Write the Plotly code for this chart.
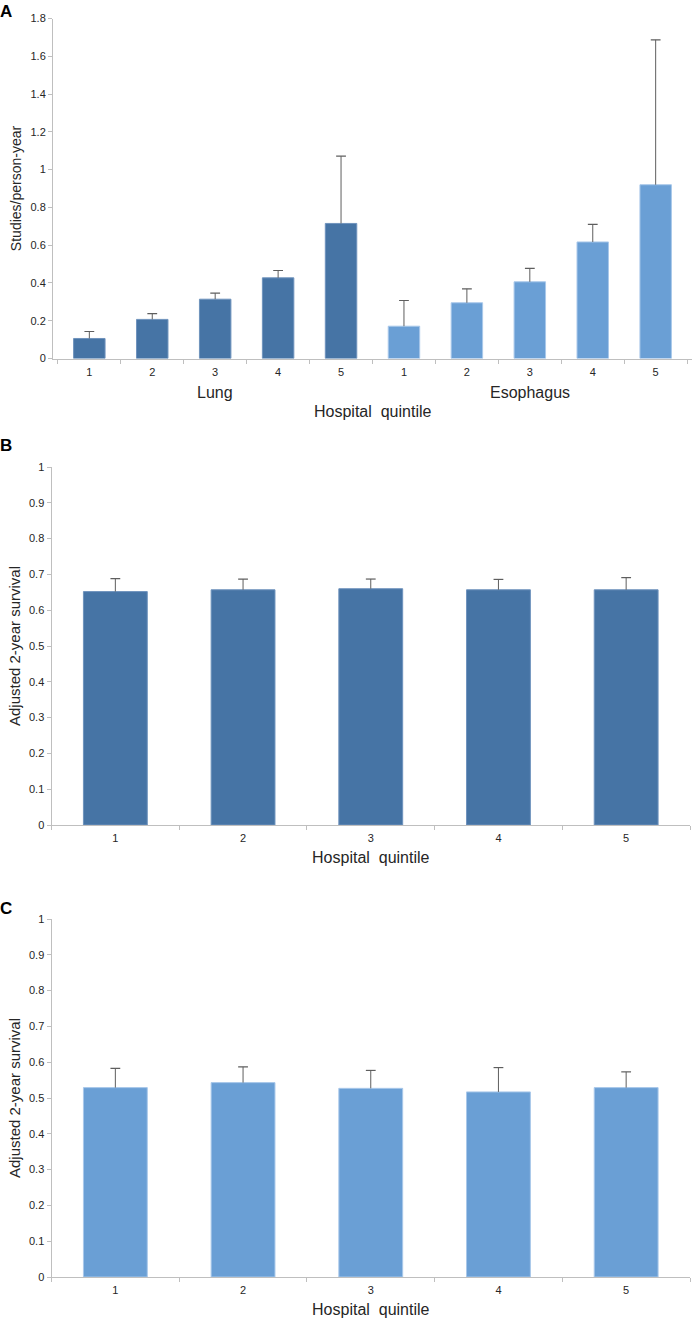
import plotly.graph_objects as go

# ---------------- data ----------------
quintiles = ["1", "2", "3", "4", "5"]
groups_a = ["Lung", "Esophagus"]

lung_rate = [0.106, 0.207, 0.314, 0.427, 0.715]
lung_rate_upper = [0.143, 0.238, 0.346, 0.466, 1.071]
eso_rate = [0.171, 0.295, 0.406, 0.617, 0.920]
eso_rate_upper = [0.307, 0.369, 0.477, 0.710, 1.687]

lung_surv = [0.652, 0.657, 0.660, 0.657, 0.657]
lung_surv_upper = [0.688, 0.687, 0.687, 0.686, 0.691]

eso_surv = [0.529, 0.543, 0.527, 0.517, 0.529]
eso_surv_upper = [0.583, 0.587, 0.577, 0.585, 0.573]

yticks_a = [0, 0.2, 0.4, 0.6, 0.8, 1, 1.2, 1.4, 1.6, 1.8]
ytick_text_a = ["0", "0.2", "0.4", "0.6", "0.8", "1", "1.2", "1.4", "1.6", "1.8"]
yticks_bc = [0, 0.1, 0.2, 0.3, 0.4, 0.5, 0.6, 0.7, 0.8, 0.9, 1]
ytick_text_bc = ["0", "0.1", "0.2", "0.3", "0.4", "0.5", "0.6", "0.7", "0.8", "0.9", "1"]

# ---------------- styles ----------------
DARK = "#4674a5"
LIGHT = "#6a9fd5"
DARK_EDGE = "#6f93bd"
LIGHT_EDGE = "#a9c8ea"
ERR = "#5e5e5e"
AXIS = "#bfbfbf"
TXT = "#262626"
FONT = "Liberation Sans, Arial, sans-serif"
NARROW = "Liberation Sans Narrow, Arial Narrow, Liberation Sans, Arial, sans-serif"

H = 1322.0
W = 694.0

fig = go.Figure()


def add_bars(xcats, vals, uppers, colors, edges, xa, ya):
    plus = [u - v for u, v in zip(uppers, vals)]
    fig.add_trace(go.Bar(
        x=xcats, y=vals, xaxis=xa, yaxis=ya,
        marker=dict(color=colors, line=dict(color=edges, width=1)),
        error_y=dict(type="data", symmetric=False, array=plus,
                     arrayminus=[0] * len(vals), color=ERR,
                     thickness=1, width=0),
        showlegend=False, hoverinfo="skip",
    ))
    fig.add_trace(go.Scatter(
        x=xcats, y=uppers, xaxis=xa, yaxis=ya, mode="markers",
        marker=dict(symbol="line-ew", size=7,
                    line=dict(color=ERR, width=1.2)),
        showlegend=False, hoverinfo="skip",
    ))


# Panel A
cats_a = [g + " " + q for g in groups_a for q in quintiles]
vals_a = lung_rate + eso_rate
upper_a = lung_rate_upper + eso_rate_upper
colors_a = [DARK] * len(lung_rate) + [LIGHT] * len(eso_rate)
edges_a = [DARK_EDGE] * len(lung_rate) + [LIGHT_EDGE] * len(eso_rate)
add_bars(cats_a, vals_a, upper_a, colors_a, edges_a, "x", "y")

# Panel B
cats_b = ["B " + q for q in quintiles]
add_bars(cats_b, lung_surv, lung_surv_upper, [DARK] * 5, [DARK_EDGE] * 5, "x2", "y2")

# Panel C
cats_c = ["C " + q for q in quintiles]
add_bars(cats_c, eso_surv, eso_surv_upper, [LIGHT] * 5, [LIGHT_EDGE] * 5, "x3", "y3")


def ydom(top_px, bot_px):
    return [1 - bot_px / H, 1 - top_px / H]


common_x = dict(type="category", tickson="boundaries", ticks="outside",
                ticklen=4, tickcolor=AXIS, showline=True, linecolor=AXIS,
                linewidth=1, showgrid=False, zeroline=False, automargin=False,
                ticklabelstandoff=3,
                tickfont=dict(family=NARROW, size=11, color=TXT),
                fixedrange=True)
common_y = dict(ticks="outside", ticklen=4, tickcolor=AXIS, showline=True,
                linecolor=AXIS, linewidth=1, showgrid=False, zeroline=False,
                automargin=False,
                tickfont=dict(family=NARROW, size=11, color=TXT),
                tickmode="array", fixedrange=True)

fig.update_layout(
    width=694, height=1322,
    margin=dict(l=0, r=0, t=0, b=0, autoexpand=False),
    paper_bgcolor="white", plot_bgcolor="white",
    bargap=0.5,
    showlegend=False,
    xaxis=dict(common_x, domain=[53 / W, 692 / W], anchor="y",
               categoryorder="array", categoryarray=cats_a,
               tickmode="array", tickvals=cats_a,
               ticktext=quintiles + quintiles),
    yaxis=dict(common_y, domain=ydom(18.5, 358.5), anchor="x",
               range=[0, 1.8], tickvals=yticks_a, ticktext=ytick_text_a,
               title=dict(text="Studies/person-year", standoff=5,
                          font=dict(family=FONT, size=14, color=TXT))),
    xaxis2=dict(common_x, domain=[51.5 / W, 690 / W], anchor="y2",
                categoryorder="array", categoryarray=cats_b,
                tickmode="array", tickvals=cats_b, ticktext=quintiles,
                title=dict(text="Hospital&nbsp; quintile", standoff=8,
                           font=dict(family=NARROW, size=16, color=TXT))),
    yaxis2=dict(common_y, domain=ydom(467, 825), anchor="x2",
                range=[0, 1], tickvals=yticks_bc, ticktext=ytick_text_bc,
                title=dict(text="Adjusted 2-year survival", standoff=4,
                           font=dict(family=FONT, size=15, color=TXT))),
    xaxis3=dict(common_x, domain=[51.5 / W, 690 / W], anchor="y3",
                categoryorder="array", categoryarray=cats_c,
                tickmode="array", tickvals=cats_c, ticktext=quintiles,
                title=dict(text="Hospital&nbsp; quintile", standoff=8,
                           font=dict(family=NARROW, size=16, color=TXT))),
    yaxis3=dict(common_y, domain=ydom(919, 1277), anchor="x3",
                range=[0, 1], tickvals=yticks_bc, ticktext=ytick_text_bc,
                title=dict(text="Adjusted 2-year survival", standoff=4,
                           font=dict(family=FONT, size=15, color=TXT))),
)

# group labels for panel A, centred on each group's categories
n = len(quintiles)
ann_list = []
for gi, g in enumerate(groups_a):
    mid = gi * n + (n - 1) / 2  # category index of group centre
    ann_list.append(dict(x=mid, y=0, xref="x", yref="y", text=g,
                         showarrow=False, yshift=-34,
                         font=dict(family=NARROW, size=16, color=TXT)))
ann_list.append(dict(x=(2 * n - 1) / 2, y=0, xref="x", yref="y",
                     text="Hospital&nbsp; quintile", showarrow=False,
                     yshift=-53, font=dict(family=NARROW, size=16, color=TXT)))
for lab, ypx in [("A", 12), ("B", 446), ("C", 908)]:
    ann_list.append(dict(x=0, y=1 - ypx / H, xref="paper", yref="paper",
                         xanchor="left", yanchor="middle", text="<b>" + lab + "</b>",
                         showarrow=False, xshift=-2,
                         font=dict(family=FONT, size=17, color="#000000")))
fig.update_layout(annotations=ann_list)

fig.write_html("out.html", config={"displayModeBar": False},
               post_script="document.body.style.margin='0';")
